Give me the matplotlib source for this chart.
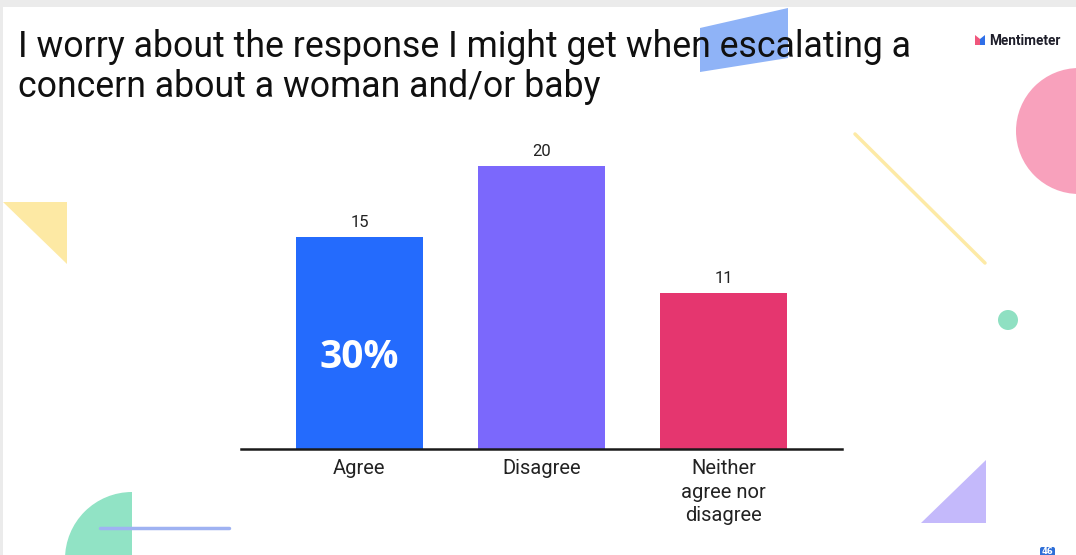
import matplotlib.pyplot as plt
from matplotlib.patches import Polygon, Circle, Wedge, Rectangle, FancyBboxPatch

categories = ['Agree', 'Disagree', 'Neither\nagree nor\ndisagree']
votes = [15, 20, 11]
bar_colors = ['#246bfd', '#7b68fc', '#e5366f']
highlight = '30%'

title_lines = ['I worry about the response I might get when escalating a',
               'concern about a woman and/or baby']

W, H = 1076, 555
fig = plt.figure(figsize=(W / 100, H / 100), dpi=100)
fig.patch.set_facecolor('white')

# background layer in pixel coordinates (y down)
bg = fig.add_axes([0, 0, 1, 1])
bg.set_xlim(0, W)
bg.set_ylim(H, 0)
bg.axis('off')

# grey frame of the screenshot
bg.add_patch(Rectangle((0, 0), W, 7, color='#ebebeb', lw=0))
bg.add_patch(Rectangle((0, 0), 3, H, color='#ebebeb', lw=0))

# decorative shapes
bg.add_patch(Polygon([(700, 28), (788, 8), (788, 58), (700, 72)],
                     closed=True, color='#8fb3f7', lw=0, zorder=1))
bg.add_patch(Polygon([(3, 202), (67, 202), (67, 264)], closed=True,
                     color='#fde9a4', lw=0))
bg.add_patch(Circle((1079, 131), 63, color='#f8a1bc', lw=0))
bg.plot([855, 985], [134, 263], color='#fdeaa6', lw=2.5, solid_capstyle='round')
bg.add_patch(Circle((1008, 320), 10, color='#8fe0c2', lw=0))
bg.add_patch(Polygon([(921, 523), (986, 460), (986, 523)], closed=True,
                     color='#c4b9fb', lw=0))
# y axis is inverted here, so 180-270 deg is the upper-left quarter on screen
bg.add_patch(Wedge((132, 559), 67, 180, 270, color='#91e3c5', lw=0))
bg.plot([100, 229], [528, 528], color='#9fb2f2', lw=2.5, solid_capstyle='round')

# page number badge
bg.add_patch(FancyBboxPatch((1040, 547), 15, 12,
                            boxstyle='round,pad=0,rounding_size=2',
                            color='#2f6fd8', lw=0))
bg.text(1047.5, 551.5, '46', color='white', fontsize=6, fontweight='bold',
        ha='center', va='center', family='DejaVu Sans')

# Mentimeter logo
bg.add_patch(Polygon([(975, 35), (980, 39), (980, 45), (975, 45)],
                     closed=True, color='#f0567c', lw=0))
bg.add_patch(Polygon([(980, 39), (985, 35), (985, 45), (980, 45)],
                     closed=True, color='#2f6fe8', lw=0))
bg.text(989, 41, 'Mentimeter', fontsize=9.8, fontweight='bold',
        color='#1e1e2a', ha='left', va='center', family='Roboto')

# title
for line, base in zip(title_lines, [57, 97]):
    bg.text(18, base, line, fontsize=25.7, color='#101010',
            ha='left', va='baseline', family='Roboto', zorder=2)

# bar chart
x0, x1 = 241, 842
y0, y1 = 449, 449 - 22 * 14.15
ax = fig.add_axes([x0 / W, (H - y0) / H, (x1 - x0) / W, (y0 - y1) / H])
ax.patch.set_alpha(0)
pos = range(len(categories))
bars = ax.bar(pos, votes, width=0.7, color=bar_colors, zorder=2)
ax.set_xlim(-0.65, 2.65)
ax.set_ylim(0, 22)
for s in ['top', 'right', 'left']:
    ax.spines[s].set_visible(False)
ax.spines['bottom'].set_color('#1a1a1a')
ax.spines['bottom'].set_linewidth(1.8)
ax.set_yticks([])
ax.set_xticks(list(pos))
ax.set_xticklabels(categories, fontsize=14.5, color='#222222', family='Roboto',
                   linespacing=1.32)
ax.tick_params(axis='x', length=0, pad=7)

for b, v in zip(bars, votes):
    ax.annotate(str(v), (b.get_x() + b.get_width() / 2, v),
                xytext=(0, 5), textcoords='offset points', ha='center',
                va='bottom', fontsize=12, color='#222222', family='Roboto')

ax.text(0, 6.5, highlight, color='white', fontsize=28, fontweight='bold',
        ha='center', va='center', family='Open Sans', zorder=3)

fig.savefig('out.png', dpi=100, facecolor='white')
